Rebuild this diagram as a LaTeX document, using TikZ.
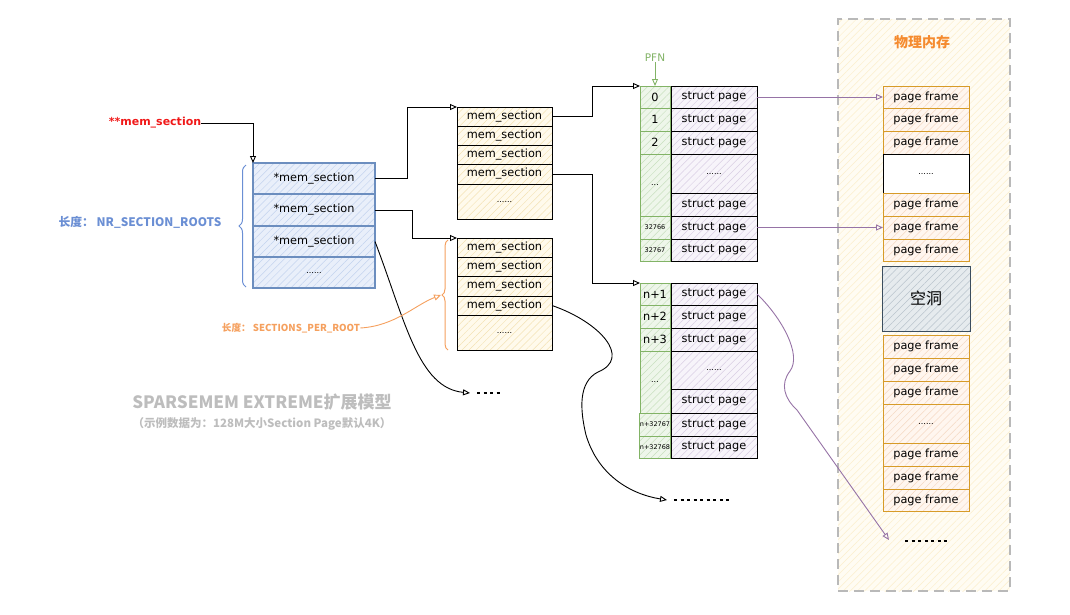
\documentclass[tikz,border=0pt]{standalone}
\usepackage{fontspec}
\setmainfont{DejaVu Sans}
\newfontfamily\cjk{Noto Sans CJK SC}
\usetikzlibrary{arrows.meta,patterns.meta,decorations.pathreplacing}
\definecolor{blueB}{HTML}{6C8EBF}
\definecolor{blueF}{HTML}{E9EFFA}
\definecolor{blueH}{HTML}{C3D3EF}
\definecolor{yelF}{HTML}{FFFAEC}
\definecolor{yelH}{HTML}{F4E2B4}
\definecolor{grnB}{HTML}{82B366}
\definecolor{grnF}{HTML}{EEF6EA}
\definecolor{grnH}{HTML}{C9E0BF}
\definecolor{purF}{HTML}{F7F4FA}
\definecolor{purH}{HTML}{D9CFE4}
\definecolor{orgB}{HTML}{D79B28}
\definecolor{orgF}{HTML}{FFF6EF}
\definecolor{orgH}{HTML}{F5D9C3}
\definecolor{holeB}{HTML}{3B4D5E}
\definecolor{holeF}{HTML}{E6EBEE}
\definecolor{holeH}{HTML}{B9C4CC}
\definecolor{physF}{HTML}{FFFCF3}
\definecolor{physH}{HTML}{FCEFCC}
\definecolor{purA}{HTML}{9673A6}
\definecolor{orgT}{HTML}{F5A05E}
\definecolor{blueT}{HTML}{6B8FD4}
\definecolor{grayT}{HTML}{BDBDBD}
\definecolor{redT}{HTML}{F01818}
\definecolor{physT}{HTML}{F58B2F}
\newcommand{\mkcell}[7]{\node[#2,minimum width={(#5-#3)*1pt},minimum height={(#6-#4)*1pt}] (#1) at ({(#3+#5)/2},{-(#4+#6)/2}) {#7};}
\newcommand{\dotsz}{\fontsize{8}{9}\selectfont}
\newcommand{\tinyn}{\fontsize{6.5}{7}\selectfont}
\begin{document}
\begin{tikzpicture}[x=1pt,y=1pt,
  hatch/.style 2 args={preaction={fill=#1},pattern={Lines[angle=45,distance=5pt,line width=0.5pt]},pattern color=#2},
  cellbase/.style={draw,rectangle,inner sep=0pt,outer sep=0pt,font=\fontsize{11.3}{13}\selectfont,line width=0.9pt},
  bluecell/.style={cellbase,draw=blueB,line width=1.2pt,hatch={blueF}{blueH}},
  mscell/.style={cellbase,draw=black,hatch={yelF}{yelH}},
  pfncell/.style={cellbase,draw=grnB,hatch={grnF}{grnH}},
  spcell/.style={cellbase,draw=black,hatch={purF}{purH}},
  pfcell/.style={cellbase,draw=orgB,hatch={orgF}{orgH}},
  whitecell/.style={cellbase,draw=black,fill=white},
  holecell/.style={cellbase,draw=holeB,hatch={holeF}{holeH},font=\cjk\fontsize{16}{18}\selectfont},
  physbox/.style={rectangle,inner sep=0pt,draw=gray!55,dash pattern=on 10pt off 6pt,line width=1.4pt,hatch={physF}{physH}},
  arr/.style={-{Triangle[open,length=7pt,width=6pt]},line width=0.9pt},
  conn/.style={arr,draw=black},
  pconn/.style={arr,draw=purA},
  dotline/.style={line width=2pt,dash pattern=on 3pt off 3.5pt},
  lbl/.style={inner sep=0pt}
]
\useasboundingbox (0,0) rectangle (1070,-614);

% physical memory container
\mkcell{phys}{physbox}{838}{19}{1010}{591}{}
\node[lbl,text=physT,font=\cjk\bfseries\fontsize{14}{16}\selectfont] (phystitle) at (922,-42) {物理内存};

% root label
\node[lbl,text=redT,font=\bfseries\fontsize{11}{13}\selectfont] (root) at (155,-123) {**mem\_section};

% blue block
\mkcell{b1}{bluecell}{253}{163}{375}{194}{*mem\_section}
\mkcell{b2}{bluecell}{253}{194}{375}{226}{*mem\_section}
\mkcell{b3}{bluecell}{253}{226}{375}{257}{*mem\_section}
\mkcell{b4}{bluecell}{253}{257}{375}{288}{\dotsz ......}
\draw[blueT,line width=1pt,decorate,decoration={brace,amplitude=7pt}] (246,-287) -- (246,-165);
\node[lbl,text=blueT,font=\cjk\bfseries\fontsize{11.8}{13}\selectfont] (nrlabel) at (140,-222) {长度：\ NR\_SECTION\_ROOTS};

% block 2
\mkcell{a1}{mscell}{457}{107}{552}{126}{mem\_section}
\mkcell{a2}{mscell}{457}{126}{552}{145}{mem\_section}
\mkcell{a3}{mscell}{457}{145}{552}{164}{mem\_section}
\mkcell{a4}{mscell}{457}{164}{552}{184}{mem\_section}
\mkcell{a5}{mscell}{457}{184}{552}{219}{\dotsz ......}

% block 3
\mkcell{c1}{mscell}{457}{238}{552}{257}{mem\_section}
\mkcell{c2}{mscell}{457}{257}{552}{276}{mem\_section}
\mkcell{c3}{mscell}{457}{276}{552}{296}{mem\_section}
\mkcell{c4}{mscell}{457}{296}{552}{315}{mem\_section}
\mkcell{c5}{mscell}{457}{315}{552}{350}{\dotsz ......}
\draw[orgT,line width=1pt,decorate,decoration={brace,amplitude=6pt}] (448,-350) -- (448,-240);
\coordinate (obtip) at (441,-295);
\node[lbl,text=orgT,font=\cjk\bfseries\fontsize{9.6}{11}\selectfont] (splabel) at (291,-328) {长度：\ SECTIONS\_PER\_ROOT};

% upper PFN group
\mkcell{p0}{pfncell}{640}{86}{670}{108}{0}
\mkcell{p1}{pfncell}{640}{108}{670}{131}{1}
\mkcell{p2}{pfncell}{640}{131}{670}{154}{2}
\mkcell{pd}{pfncell}{640}{154}{670}{216}{\dotsz ...}
\mkcell{p66}{pfncell}{640}{216}{670}{239}{\tinyn 32766}
\mkcell{p67}{pfncell}{640}{239}{670}{261}{\tinyn 32767}
\mkcell{s0}{spcell}{671}{86}{757}{108}{struct page}
\mkcell{s1}{spcell}{671}{108}{757}{131}{struct page}
\mkcell{s2}{spcell}{671}{131}{757}{154}{struct page}
\mkcell{sd}{spcell}{671}{154}{757}{193}{\dotsz ......}
\mkcell{sx}{spcell}{671}{193}{757}{216}{struct page}
\mkcell{s66}{spcell}{671}{216}{757}{239}{struct page}
\mkcell{s67}{spcell}{671}{239}{757}{261}{struct page}
\node[lbl,text=grnB,font=\fontsize{10.5}{12}\selectfont] (pfnlabel) at (655,-58) {PFN};

% lower PFN group
\mkcell{q1}{pfncell}{640}{283}{670}{305}{n+1}
\mkcell{q2}{pfncell}{640}{305}{670}{328}{n+2}
\mkcell{q3}{pfncell}{640}{328}{670}{351}{n+3}
\mkcell{qd}{pfncell}{640}{351}{670}{413}{\dotsz ...}
\mkcell{q67}{pfncell}{640}{413}{670}{436}{\tinyn n+32767}
\mkcell{q68}{pfncell}{640}{436}{670}{458}{\tinyn n+32768}
\mkcell{t1}{spcell}{671}{283}{757}{305}{struct page}
\mkcell{t2}{spcell}{671}{305}{757}{328}{struct page}
\mkcell{t3}{spcell}{671}{328}{757}{351}{struct page}
\mkcell{td}{spcell}{671}{351}{757}{389}{\dotsz ......}
\mkcell{tx}{spcell}{671}{389}{757}{413}{struct page}
\mkcell{t67}{spcell}{671}{413}{757}{436}{struct page}
\mkcell{t68}{spcell}{671}{436}{757}{458}{struct page}

% page frames upper
\mkcell{f1}{pfcell}{883}{86}{969}{108}{page frame}
\mkcell{f2}{pfcell}{883}{108}{969}{131}{page frame}
\mkcell{f3}{pfcell}{883}{131}{969}{154}{page frame}
\mkcell{fd}{whitecell}{883}{154}{969}{193}{\dotsz ......}
\mkcell{f5}{pfcell}{883}{193}{969}{216}{page frame}
\mkcell{f6}{pfcell}{883}{216}{969}{239}{page frame}
\mkcell{f7}{pfcell}{883}{239}{969}{261}{page frame}
\mkcell{hole}{holecell}{882}{266}{970}{331}{空洞}
% page frames lower
\mkcell{g1}{pfcell}{883}{335}{969}{358}{page frame}
\mkcell{g2}{pfcell}{883}{358}{969}{381}{page frame}
\mkcell{g3}{pfcell}{883}{381}{969}{404}{page frame}
\mkcell{gd}{pfcell}{883}{404}{969}{443}{\dotsz ......}
\mkcell{g5}{pfcell}{883}{443}{969}{466}{page frame}
\mkcell{g6}{pfcell}{883}{466}{969}{489}{page frame}
\mkcell{g7}{pfcell}{883}{489}{969}{511}{page frame}

% title
\node[lbl,text=grayT,font=\cjk\bfseries\fontsize{17}{19}\selectfont] (title) at (262,-402) {SPARSEMEM EXTREME扩展模型};
\node[lbl,text=grayT,font=\cjk\bfseries\fontsize{11.5}{13}\selectfont] (subtitle) at (262,-424) {（示例数据为：128M大小Section Page默认4K）};

% free ends
\coordinate (e1) at (470,-393);
\coordinate (d1s) at (477,-393);
\coordinate (d1e) at (501,-393);
\coordinate (e2) at (667,-500);
\coordinate (d2s) at (674,-500);
\coordinate (d2e) at (731,-500);
\coordinate (e3) at (889,-540);
\coordinate (d3s) at (905,-541);
\coordinate (d3e) at (947,-541);

% connectors
\draw[conn] (root.east) -| (b1.north west);
\draw[conn] (b1.east) -- ++(32,0) |- (a1.north west);
\draw[conn] (b2.east) -- ++(37,0) |- (c1.north west);
\draw[conn] (b3.east) .. controls (405,-320) and (418,-388) .. (e1);
\draw[dotline] (d1s) -- (d1e);
\draw[conn] (a1.east) -- ++(40,0) |- (p0.north west);
\draw[conn] (a4.east) -- ++(40,0) |- (q1.north west);
\draw[conn] (c4.east) .. controls (600,-322) and (632,-358) .. (598,-372) .. controls (578,-382) and (580,-410) .. (586,-435) .. controls (598,-475) and (630,-494) .. (e2);
\draw[dotline] (d2s) -- (d2e);
\draw[arr,draw=orgT] (splabel.east) .. controls (395,-326) and (415,-305) .. (obtip);
\draw[arr,draw=grnB] (pfnlabel.south) -- (p0.north);
\draw[pconn] (s0.east) -- (f1.west);
\draw[pconn] (s66.east) -- (f6.west);
\draw[pconn] (t1.east) .. controls (782,-318) and (802,-355) .. (790,-371) .. controls (780,-384) and (784,-398) .. (797,-410) -- (e3);
\draw[dotline] (d3s) -- (d3e);
\end{tikzpicture}
\end{document}
